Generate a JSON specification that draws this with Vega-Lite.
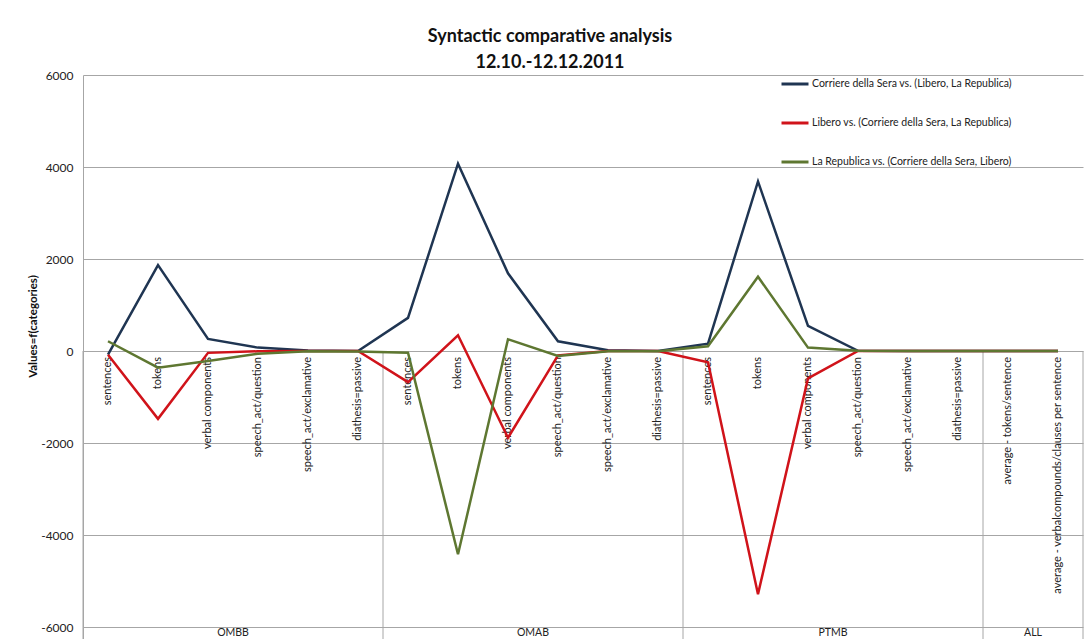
{
  "$schema": "https://vega.github.io/schema/vega-lite/v6.json",
  "autosize": {"type": "none"},
  "width": 1000,
  "height": 564,
  "padding": {"left": 83, "top": 75, "right": 3, "bottom": 0},
  "background": "white",
  "config": {
    "font": "Lato",
    "view": {"stroke": null},
    "title": {"font": "Lato"},
    "axis": {"labelFont": "Lato", "titleFont": "Lato"},
    "legend": {"labelFont": "Lato"}
  },
  "title": {
    "text": ["Syntactic comparative analysis", "12.10.-12.12.2011"],
    "fontSize": 18,
    "fontWeight": "bold",
    "lineHeight": 26,
    "color": "#111111",
    "anchor": "middle",
    "frame": "group",
    "dx": -33,
    "offset": -3
  },
  "datasets": {
    "series": [
      {"s": "Corriere della Sera vs. (Libero, La Republica)", "key": "OMBB|sentences", "cat": "sentences", "v": -80},
      {"s": "Corriere della Sera vs. (Libero, La Republica)", "key": "OMBB|tokens", "cat": "tokens", "v": 1869},
      {"s": "Corriere della Sera vs. (Libero, La Republica)", "key": "OMBB|verbal components", "cat": "verbal components", "v": 262},
      {"s": "Corriere della Sera vs. (Libero, La Republica)", "key": "OMBB|speech_act/question", "cat": "speech_act/question", "v": 74},
      {"s": "Corriere della Sera vs. (Libero, La Republica)", "key": "OMBB|speech_act/exclamative", "cat": "speech_act/exclamative", "v": 10},
      {"s": "Corriere della Sera vs. (Libero, La Republica)", "key": "OMBB|diathesis=passive", "cat": "diathesis=passive", "v": 0},
      {"s": "Corriere della Sera vs. (Libero, La Republica)", "key": "OMAB|sentences", "cat": "sentences", "v": 720},
      {"s": "Corriere della Sera vs. (Libero, La Republica)", "key": "OMAB|tokens", "cat": "tokens", "v": 4072},
      {"s": "Corriere della Sera vs. (Libero, La Republica)", "key": "OMAB|verbal components", "cat": "verbal components", "v": 1688},
      {"s": "Corriere della Sera vs. (Libero, La Republica)", "key": "OMAB|speech_act/question", "cat": "speech_act/question", "v": 212},
      {"s": "Corriere della Sera vs. (Libero, La Republica)", "key": "OMAB|speech_act/exclamative", "cat": "speech_act/exclamative", "v": 15},
      {"s": "Corriere della Sera vs. (Libero, La Republica)", "key": "OMAB|diathesis=passive", "cat": "diathesis=passive", "v": 0},
      {"s": "Corriere della Sera vs. (Libero, La Republica)", "key": "PTMB|sentences", "cat": "sentences", "v": 161},
      {"s": "Corriere della Sera vs. (Libero, La Republica)", "key": "PTMB|tokens", "cat": "tokens", "v": 3686},
      {"s": "Corriere della Sera vs. (Libero, La Republica)", "key": "PTMB|verbal components", "cat": "verbal components", "v": 545},
      {"s": "Corriere della Sera vs. (Libero, La Republica)", "key": "PTMB|speech_act/question", "cat": "speech_act/question", "v": 5},
      {"s": "Corriere della Sera vs. (Libero, La Republica)", "key": "PTMB|speech_act/exclamative", "cat": "speech_act/exclamative", "v": 0},
      {"s": "Corriere della Sera vs. (Libero, La Republica)", "key": "PTMB|diathesis=passive", "cat": "diathesis=passive", "v": 0},
      {"s": "Corriere della Sera vs. (Libero, La Republica)", "key": "ALL|average - tokens/sentence", "cat": "average - tokens/sentence", "v": 0},
      {"s": "Corriere della Sera vs. (Libero, La Republica)", "key": "ALL|average - verbalcompounds/clauses per sentence", "cat": "average - verbalcompounds/clauses per sentence", "v": 0},
      {"s": "Libero vs. (Corriere della Sera, La Republica)", "key": "OMBB|sentences", "cat": "sentences", "v": -80},
      {"s": "Libero vs. (Corriere della Sera, La Republica)", "key": "OMBB|tokens", "cat": "tokens", "v": -1475},
      {"s": "Libero vs. (Corriere della Sera, La Republica)", "key": "OMBB|verbal components", "cat": "verbal components", "v": -40},
      {"s": "Libero vs. (Corriere della Sera, La Republica)", "key": "OMBB|speech_act/question", "cat": "speech_act/question", "v": -5},
      {"s": "Libero vs. (Corriere della Sera, La Republica)", "key": "OMBB|speech_act/exclamative", "cat": "speech_act/exclamative", "v": 0},
      {"s": "Libero vs. (Corriere della Sera, La Republica)", "key": "OMBB|diathesis=passive", "cat": "diathesis=passive", "v": 0},
      {"s": "Libero vs. (Corriere della Sera, La Republica)", "key": "OMAB|sentences", "cat": "sentences", "v": -676},
      {"s": "Libero vs. (Corriere della Sera, La Republica)", "key": "OMAB|tokens", "cat": "tokens", "v": 342},
      {"s": "Libero vs. (Corriere della Sera, La Republica)", "key": "OMAB|verbal components", "cat": "verbal components", "v": -1885},
      {"s": "Libero vs. (Corriere della Sera, La Republica)", "key": "OMAB|speech_act/question", "cat": "speech_act/question", "v": -94},
      {"s": "Libero vs. (Corriere della Sera, La Republica)", "key": "OMAB|speech_act/exclamative", "cat": "speech_act/exclamative", "v": 0},
      {"s": "Libero vs. (Corriere della Sera, La Republica)", "key": "OMAB|diathesis=passive", "cat": "diathesis=passive", "v": 0},
      {"s": "Libero vs. (Corriere della Sera, La Republica)", "key": "PTMB|sentences", "cat": "sentences", "v": -246},
      {"s": "Libero vs. (Corriere della Sera, La Republica)", "key": "PTMB|tokens", "cat": "tokens", "v": -5285},
      {"s": "Libero vs. (Corriere della Sera, La Republica)", "key": "PTMB|verbal components", "cat": "verbal components", "v": -595},
      {"s": "Libero vs. (Corriere della Sera, La Republica)", "key": "PTMB|speech_act/question", "cat": "speech_act/question", "v": 0},
      {"s": "Libero vs. (Corriere della Sera, La Republica)", "key": "PTMB|speech_act/exclamative", "cat": "speech_act/exclamative", "v": 0},
      {"s": "Libero vs. (Corriere della Sera, La Republica)", "key": "PTMB|diathesis=passive", "cat": "diathesis=passive", "v": 0},
      {"s": "Libero vs. (Corriere della Sera, La Republica)", "key": "ALL|average - tokens/sentence", "cat": "average - tokens/sentence", "v": 0},
      {"s": "Libero vs. (Corriere della Sera, La Republica)", "key": "ALL|average - verbalcompounds/clauses per sentence", "cat": "average - verbalcompounds/clauses per sentence", "v": 0},
      {"s": "La Republica vs. (Corriere della Sera, Libero)", "key": "OMBB|sentences", "cat": "sentences", "v": 212},
      {"s": "La Republica vs. (Corriere della Sera, Libero)", "key": "OMBB|tokens", "cat": "tokens", "v": -362},
      {"s": "La Republica vs. (Corriere della Sera, Libero)", "key": "OMBB|verbal components", "cat": "verbal components", "v": -218},
      {"s": "La Republica vs. (Corriere della Sera, Libero)", "key": "OMBB|speech_act/question", "cat": "speech_act/question", "v": -57},
      {"s": "La Republica vs. (Corriere della Sera, Libero)", "key": "OMBB|speech_act/exclamative", "cat": "speech_act/exclamative", "v": -5},
      {"s": "La Republica vs. (Corriere della Sera, Libero)", "key": "OMBB|diathesis=passive", "cat": "diathesis=passive", "v": -10},
      {"s": "La Republica vs. (Corriere della Sera, Libero)", "key": "OMAB|sentences", "cat": "sentences", "v": -35},
      {"s": "La Republica vs. (Corriere della Sera, Libero)", "key": "OMAB|tokens", "cat": "tokens", "v": -4419},
      {"s": "La Republica vs. (Corriere della Sera, Libero)", "key": "OMAB|verbal components", "cat": "verbal components", "v": 255},
      {"s": "La Republica vs. (Corriere della Sera, Libero)", "key": "OMAB|speech_act/question", "cat": "speech_act/question", "v": -108},
      {"s": "La Republica vs. (Corriere della Sera, Libero)", "key": "OMAB|speech_act/exclamative", "cat": "speech_act/exclamative", "v": -5},
      {"s": "La Republica vs. (Corriere della Sera, Libero)", "key": "OMAB|diathesis=passive", "cat": "diathesis=passive", "v": -5},
      {"s": "La Republica vs. (Corriere della Sera, Libero)", "key": "PTMB|sentences", "cat": "sentences", "v": 102},
      {"s": "La Republica vs. (Corriere della Sera, Libero)", "key": "PTMB|tokens", "cat": "tokens", "v": 1614},
      {"s": "La Republica vs. (Corriere della Sera, Libero)", "key": "PTMB|verbal components", "cat": "verbal components", "v": 74},
      {"s": "La Republica vs. (Corriere della Sera, Libero)", "key": "PTMB|speech_act/question", "cat": "speech_act/question", "v": 5},
      {"s": "La Republica vs. (Corriere della Sera, Libero)", "key": "PTMB|speech_act/exclamative", "cat": "speech_act/exclamative", "v": 0},
      {"s": "La Republica vs. (Corriere della Sera, Libero)", "key": "PTMB|diathesis=passive", "cat": "diathesis=passive", "v": 0},
      {"s": "La Republica vs. (Corriere della Sera, Libero)", "key": "ALL|average - tokens/sentence", "cat": "average - tokens/sentence", "v": 0},
      {"s": "La Republica vs. (Corriere della Sera, Libero)", "key": "ALL|average - verbalcompounds/clauses per sentence", "cat": "average - verbalcompounds/clauses per sentence", "v": 0}
    ],
    "groups": [
      {"group": "OMBB", "start": "OMBB|sentences", "mid": "OMBB|verbal components"},
      {"group": "OMAB", "start": "OMAB|sentences", "mid": "OMAB|verbal components"},
      {"group": "PTMB", "start": "PTMB|sentences", "mid": "PTMB|verbal components"},
      {"group": "ALL", "start": "ALL|average - tokens/sentence", "mid": "ALL|average - tokens/sentence"}
    ]
  },
  "resolve": {"scale": {"x": "shared", "y": "shared"}},
  "layer": [
    {
      "data": {"name": "groups"},
      "mark": {"type": "rule", "color": "#a6a6a6", "strokeWidth": 1},
      "encoding": {
        "x": {"field": "start", "type": "nominal", "bandPosition": 0,
          "scale": {"type": "band", "paddingInner": 0, "paddingOuter": 0,
            "domain": ["OMBB|sentences","OMBB|tokens","OMBB|verbal components","OMBB|speech_act/question","OMBB|speech_act/exclamative","OMBB|diathesis=passive","OMAB|sentences","OMAB|tokens","OMAB|verbal components","OMAB|speech_act/question","OMAB|speech_act/exclamative","OMAB|diathesis=passive","PTMB|sentences","PTMB|tokens","PTMB|verbal components","PTMB|speech_act/question","PTMB|speech_act/exclamative","PTMB|diathesis=passive","ALL|average - tokens/sentence","ALL|average - verbalcompounds/clauses per sentence"]},
          "axis": null},
        "y": {"datum": 0, "type": "quantitative",
          "scale": {"domain": [-6260, 6000], "nice": false, "zero": false},
          "axis": {
            "values": [-6000, -4000, -2000, 0, 2000, 4000, 6000],
            "labelExpr": "'' + datum.value",
            "grid": true, "gridColor": "#a6a6a6", "gridWidth": 1,
            "domain": true, "domainColor": "#a6a6a6", "domainWidth": 1,
            "ticks": false, "labelPadding": 10, "labelFontSize": 12, "labelColor": "#222222",
            "title": "Values=f(categories)", "titleFontSize": 11.5, "titleFontWeight": "bold", "titleColor": "#111111",
            "titleAngle": 270, "titleX": -50, "titleY": 251, "titleAlign": "center", "titleBaseline": "middle"
          }},
        "y2": {"datum": -6260}
      }
    },
    {
      "data": {"values": [{"end": "ALL|average - verbalcompounds/clauses per sentence"}]},
      "mark": {"type": "rule", "color": "#a6a6a6", "strokeWidth": 1},
      "encoding": {
        "x": {"field": "end", "type": "nominal", "bandPosition": 1},
        "y": {"datum": 0, "type": "quantitative"},
        "y2": {"datum": -6260}
      }
    },
    {
      "data": {"name": "groups"},
      "mark": {"type": "text", "fontSize": 10.5, "color": "#222222", "baseline": "middle", "align": "center"},
      "encoding": {
        "x": {"field": "mid", "type": "nominal", "bandPosition": 1},
        "y": {"datum": -6140, "type": "quantitative"},
        "text": {"field": "group"}
      }
    },
    {
      "data": {"name": "series"},
      "transform": [{"filter": "datum.s === 'Corriere della Sera vs. (Libero, La Republica)'"}],
      "mark": {"type": "text", "angle": 270, "align": "right", "baseline": "middle", "dx": -6, "fontSize": 11, "color": "#222222"},
      "encoding": {
        "x": {"field": "key", "type": "nominal", "bandPosition": 0.5},
        "y": {"datum": 0, "type": "quantitative"},
        "text": {"field": "cat"}
      }
    },
    {
      "data": {"name": "series"},
      "mark": {"type": "line", "strokeWidth": 2.5},
      "encoding": {
        "x": {"field": "key", "type": "nominal", "bandPosition": 0.5},
        "y": {"field": "v", "type": "quantitative"},
        "color": {"field": "s", "type": "nominal",
          "scale": {"domain": ["Corriere della Sera vs. (Libero, La Republica)", "Libero vs. (Corriere della Sera, La Republica)", "La Republica vs. (Corriere della Sera, Libero)"],
            "range": ["#1f3552", "#d0131a", "#5e7731"]},
          "legend": {"orient": "none", "legendX": 697, "legendY": -6, "title": null,
            "symbolType": "stroke", "symbolSize": 729, "symbolStrokeWidth": 3,
            "labelFontSize": 10.5, "labelColor": "#222222", "labelOffset": 2, "rowPadding": 18, "labelLimit": 400}
        }
      }
    }
  ]
}
